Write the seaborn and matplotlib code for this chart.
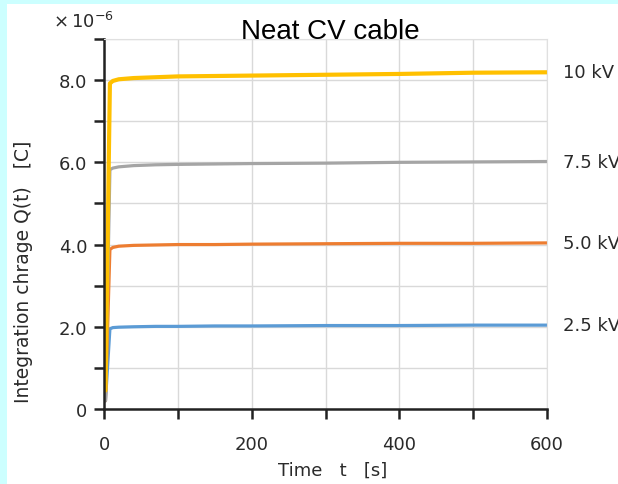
import pandas as pd
import matplotlib.pyplot as plt
import seaborn as sns
from matplotlib.patches import Rectangle
from matplotlib.ticker import MultipleLocator, FuncFormatter

# time points [s] and charge values [x 1e-6 C]
time_s = [2, 8, 12, 20, 40, 70, 100, 150, 200, 300, 400, 500, 600]
q_10kv = [0.45, 7.92, 7.98, 8.02, 8.05, 8.07, 8.09, 8.10, 8.11, 8.13, 8.15, 8.18, 8.19]
q_75kv = [0.20, 5.82, 5.86, 5.89, 5.92, 5.94, 5.95, 5.96, 5.97, 5.98, 6.00, 6.01, 6.02]
q_50kv = [0.20, 3.88, 3.93, 3.96, 3.98, 3.99, 4.00, 4.00, 4.01, 4.02, 4.03, 4.03, 4.04]
q_25kv = [0.20, 1.95, 1.98, 1.99, 2.00, 2.01, 2.01, 2.02, 2.02, 2.03, 2.03, 2.04, 2.04]

labels = ["2.5 kV", "5.0 kV", "7.5 kV", "10 kV"]
series = [q_25kv, q_50kv, q_75kv, q_10kv]
colors = ["#5B9BD5", "#ED7D31", "#A5A5A5", "#FFC000"]
widths = [2.3, 2.3, 2.3, 3]

sns.set_style("white")
plt.rcParams['font.family'] = ['DejaVu Sans']

fig = plt.figure(figsize=(6.18, 4.85), dpi=100, facecolor="#CCFFFF")
fig.patches.append(Rectangle((7 / 618, 0), 1, 1 - 5 / 485, transform=fig.transFigure,
                             facecolor="white", edgecolor="none", zorder=-10))
ax = fig.add_axes([104 / 618, 1 - 410 / 485, 443 / 618, 370 / 485])
ax.set_facecolor("white")

for lab, q, c, w in zip(labels, series, colors, widths):
    df = pd.DataFrame({"t": time_s, "q": q})
    sns.lineplot(data=df, x="t", y="q", color=c, linewidth=w, ax=ax)
    ax.text(1.035, q[-1], lab, transform=ax.get_yaxis_transform(), fontsize=13,
            va="center", ha="left", color="#2a2a2a", clip_on=False)

ax.set_xlim(0, 600)
ax.set_ylim(0, 9)
ax.xaxis.set_major_locator(MultipleLocator(100))
ax.yaxis.set_major_locator(MultipleLocator(1))
ax.xaxis.set_major_formatter(FuncFormatter(lambda v, p: f"{v:.0f}" if v % 200 == 0 else ""))
ax.yaxis.set_major_formatter(FuncFormatter(
    lambda v, p: ("0" if v == 0 else f"{v:.1f}") if round(v) % 2 == 0 else ""))
ax.grid(True, color="#D9D9D9", linewidth=1)
ax.set_axisbelow(True)

for side in ["top", "right"]:
    ax.spines[side].set_color("#E0E0E0")
for side in ["left", "bottom"]:
    ax.spines[side].set_color("#222222")
    ax.spines[side].set_linewidth(1.8)
ax.tick_params(bottom=True, left=True, direction="out", length=7, width=1.8,
               color="#222222", labelsize=13, labelcolor="#2a2a2a")
ax.tick_params(axis="y", pad=5)
ax.tick_params(axis="x", pad=12)

ax.set_xlabel("Time   t   [s]", fontsize=13, color="#2a2a2a")
ax.xaxis.set_label_coords(0.515, -0.14)
ax.set_ylabel("Integration chrage Q(t)   [C]", fontsize=13.5, color="#2a2a2a")
ax.yaxis.set_label_coords(-0.16, 0.374)

fig.text(53 / 618, 1 - 22 / 485, r"$\times\,10^{-6}$", fontsize=13, color="#2a2a2a",
         va="center", ha="left")
fig.text(330 / 618, 1 - 32 / 485, "Neat CV cable", fontsize=20, color="black",
         ha="center", va="center", family=["Liberation Sans", "DejaVu Sans"])

fig.savefig("out.png", dpi=100, facecolor=fig.get_facecolor())
